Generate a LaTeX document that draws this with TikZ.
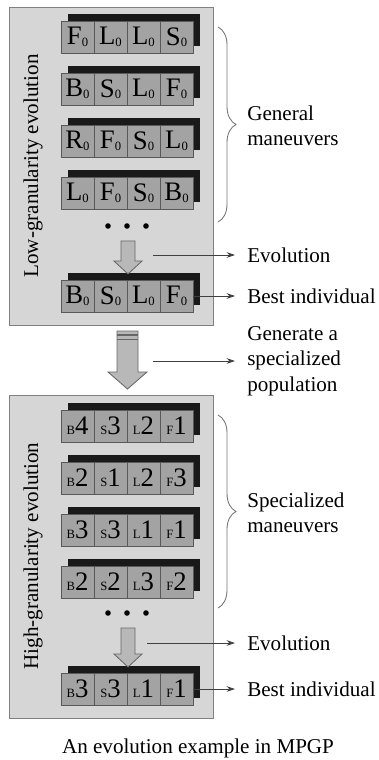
\documentclass[tikz,border=0pt]{standalone}
\usepackage{fontspec}
\setmainfont{Liberation Serif}
\usetikzlibrary{arrows.meta,decorations.pathreplacing}
\definecolor{panelgray}{gray}{0.84}
\definecolor{cellgray}{gray}{0.64}
\definecolor{arrowgray}{gray}{0.72}
\newcommand{\smallop}[1]{{\fontsize{9}{9}\selectfont #1}}
\newcommand{\lowzero}{\raisebox{-1pt}{\smallop{0}}}

\begin{document}
\begin{tikzpicture}[x=0.025cm,y=-0.025cm,
  panel/.style={draw=black!50,fill=panelgray,line width=0.6pt},
  cell/.style={draw=black!65,fill=cellgray,line width=0.5pt,minimum width=0.825cm,
    minimum height=0.8cm,inner sep=0pt,font=\fontsize{19}{19}\selectfont},
  backbar/.style={fill=black!90},
  blockarrow/.style={draw=black!60,fill=arrowgray,line width=0.6pt},
  sidetext/.style={anchor=west,inner sep=0pt,align=left,font=\fontsize{15}{18}\selectfont},
  link/.style={draw=black!75,line width=0.6pt,shorten >=0.3cm,-{Stealth[length=6pt,width=4pt]}},
  curly/.style={draw=black!55,line width=0.6pt,decorate,decoration={brace,amplitude=0.45cm}}]
  \useasboundingbox (0,0) rectangle (379,760);

  % low-granularity panel
  \draw[panel] (9,7) rectangle (213,325);
  \node[rotate=90,font=\fontsize{15}{18}\selectfont] (LowT) at (33,166) {Low-granularity evolution};
  \foreach \y/\a/\b/\c/\d/\n in {21/F/L/L/S/1,73/B/S/L/F/2,125/R/F/S/L/3,177/L/F/S/B/4,280/B/S/L/F/B} {
    \fill[backbar] (68,\y-7) rectangle (200,\y+25);
    \node[cell] (U\n-1) at (77.5,\y+16) {\a\lowzero};
    \node[cell] (U\n-2) at (110.5,\y+16) {\b\lowzero};
    \node[cell] (U\n-3) at (143.5,\y+16) {\c\lowzero};
    \node[cell] (U\n-4) at (176.5,\y+16) {\d\lowzero};
  }
  \foreach \x in {108,127,146}
    \fill (\x,226) circle (2.8);
  \draw[blockarrow] (121,241) -- (135,241) -- (135,261) -- (142,261) -- (128,274)
    -- (114,261) -- (121,261) -- cycle;

  % arrow to the specialized population
  \draw[blockarrow] (117,331) -- (138,331) -- (138,372) -- (147,372) -- (127.5,389)
    -- (108,372) -- (117,372) -- cycle;
  \draw[black!60,line width=1pt] (117,335) -- (138,335);
  \draw[black!60,line width=1pt] (117,339.5) -- (138,339.5);

  % high-granularity panel
  \draw[panel] (9,395) rectangle (213,718);
  \node[rotate=90,font=\fontsize{15}{18}\selectfont] (HighT) at (33,556) {High-granularity evolution};
  \foreach \y/\a/\b/\c/\d/\n in {410/4/3/2/1/1,462/2/1/2/3/2,514/3/3/1/1/3,566/2/2/3/2/4,673/3/3/1/1/B} {
    \fill[backbar] (68,\y-7) rectangle (200,\y+25);
    \node[cell] (H\n-1) at (77.5,\y+16) {\smallop{B}\a};
    \node[cell] (H\n-2) at (110.5,\y+16) {\smallop{S}\b};
    \node[cell] (H\n-3) at (143.5,\y+16) {\smallop{L}\c};
    \node[cell] (H\n-4) at (176.5,\y+16) {\smallop{F}\d};
  }
  \foreach \x in {108,127,146}
    \fill (\x,613) circle (2.8);
  \draw[blockarrow] (121,628) -- (135,628) -- (135,654) -- (142,654) -- (128,667)
    -- (114,654) -- (121,654) -- cycle;

  % braces and side texts
  \draw[curly] (218,27) -- (218,222);
  \node[sidetext] (GenM) at (247,126) {General\\maneuvers};
  \draw[curly] (218,415) -- (218,608);
  \node[sidetext] (SpecM) at (247,513) {Specialized\\maneuvers};

  \coordinate (EvoU) at (153,255);
  \node[sidetext] (EvoUT) at (247,255) {Evolution};
  \draw[link] (EvoU) -- (EvoUT.west);
  \node[sidetext] (BestUT) at (247,296) {Best individual};
  \draw[link] (UB-4.east) -- (BestUT.west);

  \coordinate (GenP) at (153,361);
  \node[sidetext] (GenPT) at (247,361) {Generate a\\specialized\\population};
  \draw[link] (GenP) -- (GenPT.west);

  \coordinate (EvoH) at (147,643);
  \node[sidetext] (EvoHT) at (247,643) {Evolution};
  \draw[link] (EvoH) -- (EvoHT.west);
  \node[sidetext] (BestHT) at (247,689) {Best individual};
  \draw[link] (HB-4.east) -- (BestHT.west);

  \node[font=\fontsize{15}{18}\selectfont] (Cap) at (198,748) {An evolution example in MPGP};
\end{tikzpicture}
\end{document}
